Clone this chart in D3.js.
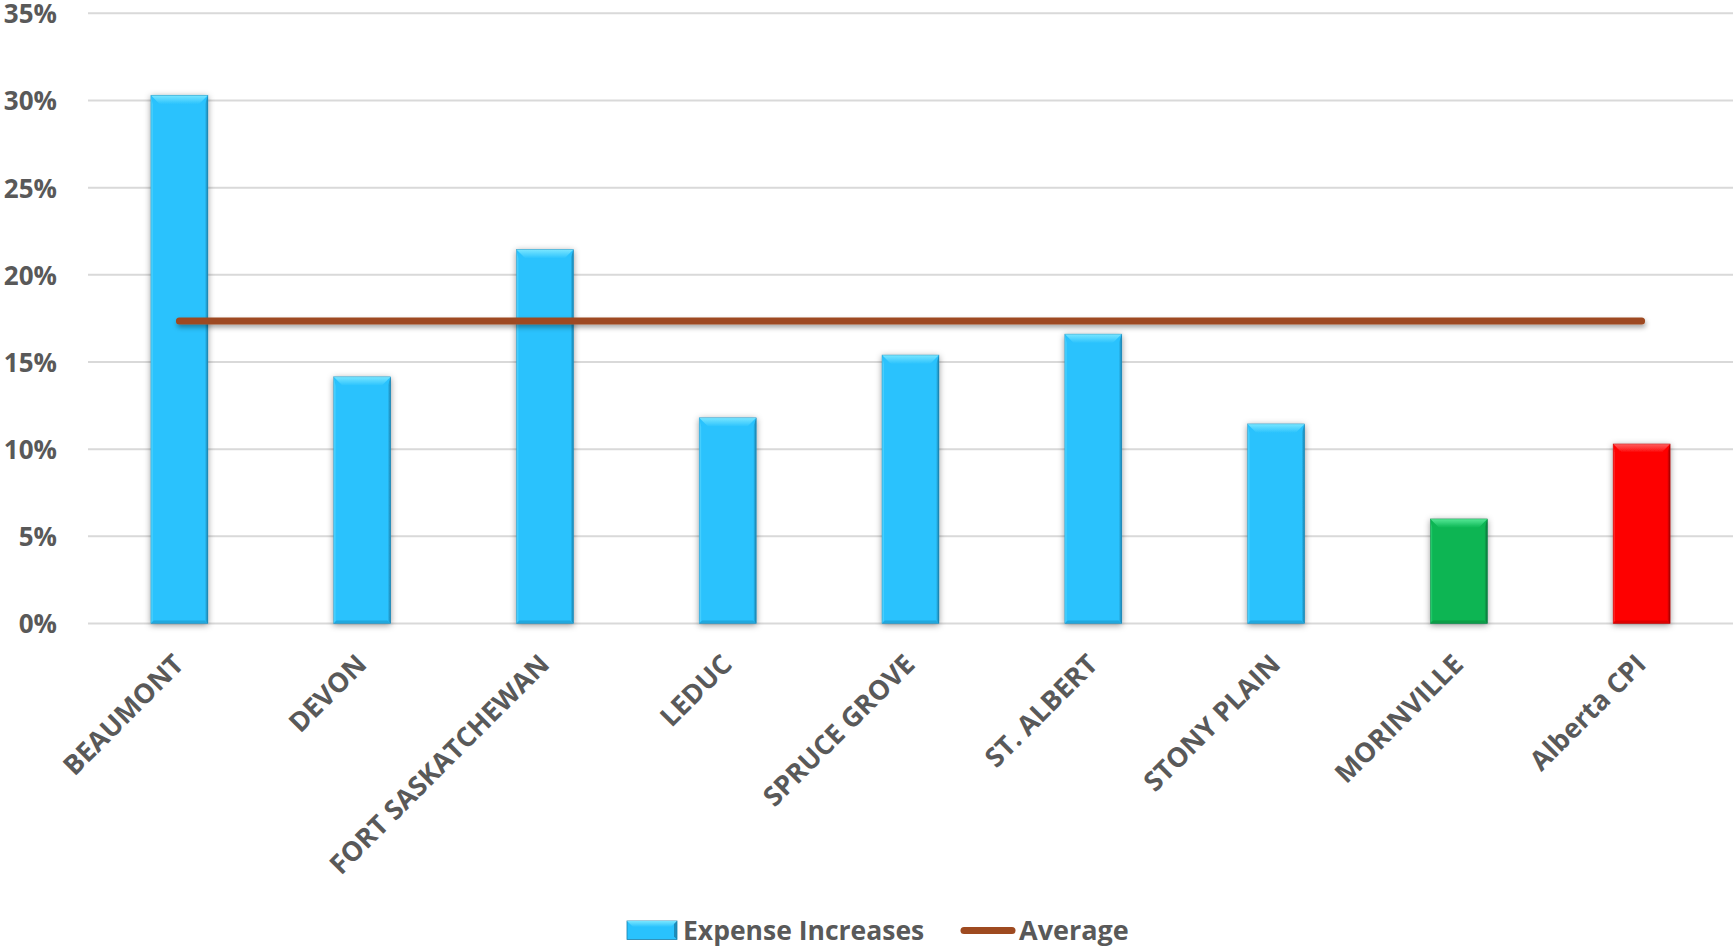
<!DOCTYPE html>
<html>
<head>
<meta charset="utf-8">
<script src="https://cdn.jsdelivr.net/npm/d3@7"></script>
<style>
  html, body { margin: 0; padding: 0; background: #ffffff; }
  svg { display: block; }
  text { font-family: "Open Sans", Lato, sans-serif; font-weight: 700; fill: #595959; }
</style>
</head>
<body>
<svg id="chart" width="1733" height="947"></svg>
<script>
// Expense increases by municipality, with the Alberta CPI for reference
const categories = ["BEAUMONT", "DEVON", "FORT SASKATCHEWAN", "LEDUC", "SPRUCE GROVE",
                    "ST. ALBERT", "STONY PLAIN", "MORINVILLE", "Alberta CPI"];
const expenseIncreases = [30.3, 14.15, 21.45, 11.8, 15.4, 16.6, 11.45, 6.0, 10.3];
const averageValue = [17.35, 17.35, 17.35, 17.35, 17.35, 17.35, 17.35, 17.35, 17.35];
const yTicks = [0, 5, 10, 15, 20, 25, 30, 35];
const legendLabels = ["Expense Increases", "Average"];

const svg = d3.select("#chart");
const plot = { left: 88, right: 1733, top: 13.3, bottom: 623.5 };

const x = d3.scaleBand().domain(categories).range([plot.left, plot.right])
  .paddingInner(0.688).paddingOuter(0.344);
const y = d3.scaleLinear().domain([0, 35]).range([plot.bottom, plot.top]);

// bar palettes: base, light (top bevel), dark (right edge), lo (bottom bevel)
const palette = {
  blue:  { base: "#29C2FD", light: "#7AE6FF", dark: "#1A7FAA", lo: "#2096C8" },
  green: { base: "#0AB552", light: "#55E896", dark: "#06703A", lo: "#078E41" },
  red:   { base: "#FE0000", light: "#FF6060", dark: "#9C0000", lo: "#C80000" }
};
const barPalette = c => c === "MORINVILLE" ? palette.green
                      : c === "Alberta CPI" ? palette.red : palette.blue;
const keyOf = p => Object.keys(palette).find(k => palette[k] === p);
const lineColor = "#9E4A20";

const defs = svg.append("defs");
const shadow = defs.append("filter").attr("id", "barShadow")
  .attr("x", "-30%").attr("y", "-10%").attr("width", "160%").attr("height", "120%");
shadow.append("feDropShadow").attr("dx", 0).attr("dy", 1.5).attr("stdDeviation", 3)
  .attr("flood-color", "#000").attr("flood-opacity", 0.4);
// the average line is flat, so its filter region is given in user space
const lineShadow = defs.append("filter").attr("id", "lineShadow")
  .attr("filterUnits", "userSpaceOnUse")
  .attr("x", 0).attr("y", 0).attr("width", 1733).attr("height", 947);
lineShadow.append("feDropShadow").attr("dx", 1).attr("dy", 3).attr("stdDeviation", 2.5)
  .attr("flood-color", "#000").attr("flood-opacity", 0.35);

Object.entries(palette).forEach(([k, p]) => {
  const g = defs.append("linearGradient").attr("id", "top-" + k)
    .attr("x1", 0).attr("y1", 0).attr("x2", 0).attr("y2", 1);
  g.append("stop").attr("offset", "0%").attr("stop-color", p.light);
  g.append("stop").attr("offset", "100%").attr("stop-color", p.base);
  const r = defs.append("linearGradient").attr("id", "right-" + k)
    .attr("x1", 0).attr("y1", 0).attr("x2", 1).attr("y2", 0);
  r.append("stop").attr("offset", "0%").attr("stop-color", p.base);
  r.append("stop").attr("offset", "100%").attr("stop-color", p.dark);
});

// gridlines
svg.append("g").selectAll("line").data(yTicks).join("line")
  .attr("x1", plot.left).attr("x2", plot.right)
  .attr("y1", d => y(d)).attr("y2", d => y(d))
  .attr("stroke", "#D9D9D9").attr("stroke-width", 2);

// y axis labels
const yAxis = d3.axisLeft(y).tickValues(yTicks).tickFormat(d => d + "%").tickSize(0).tickPadding(0);
const yg = svg.append("g").attr("transform", "translate(57,0)").call(yAxis);
yg.select(".domain").remove();
yg.selectAll("text").attr("font-size", 26).attr("fill", "#595959")
  .style("font-family", "'Open Sans', sans-serif").style("font-weight", 700).attr("dy", "0.36em");

// bevelled bars
const bars = svg.append("g").selectAll("g").data(categories).join("g")
  .attr("filter", "url(#barShadow)");
bars.each(function (c, i) {
  const g = d3.select(this);
  const p = barPalette(c), k = keyOf(p);
  const x0 = x(c), w = x.bandwidth(), y0 = y(expenseIncreases[i]), h = y(0) - y0;
  const bt = 9, bs = 3, bb = 3;
  g.append("rect").attr("x", x0).attr("y", y0).attr("width", w).attr("height", h).attr("fill", p.base);
  g.append("path").attr("fill", `url(#top-${k})`)
    .attr("d", `M${x0},${y0}L${x0 + w},${y0}L${x0 + w - bt},${y0 + bt}L${x0 + bt},${y0 + bt}Z`);
  g.append("path").attr("fill", p.lo).attr("opacity", 0.6)
    .attr("d", `M${x0},${y0 + h}L${x0 + w},${y0 + h}L${x0 + w - bb},${y0 + h - bb}L${x0 + bb},${y0 + h - bb}Z`);
  g.append("path").attr("fill", `url(#right-${k})`)
    .attr("d", `M${x0 + w},${y0}L${x0 + w},${y0 + h}L${x0 + w - bs},${y0 + h - bb}L${x0 + w - bs},${y0 + bt}Z`);
  g.append("path").attr("fill", p.light).attr("opacity", 0.35)
    .attr("d", `M${x0},${y0}L${x0},${y0 + h}L${x0 + 2},${y0 + h - bb}L${x0 + 2},${y0 + bt}Z`);
  g.append("rect").attr("x", x0).attr("y", y0).attr("width", w).attr("height", h)
    .attr("fill", "none").attr("stroke", p.dark).attr("stroke-width", 0.6).attr("opacity", 0.6);
});

// average line
const line = d3.line().x((d, i) => x(categories[i]) + x.bandwidth() / 2).y(d => y(d));
svg.append("path").datum(averageValue).attr("d", line)
  .attr("fill", "none").attr("stroke", lineColor).attr("stroke-width", 7)
  .attr("stroke-linecap", "round").attr("filter", "url(#lineShadow)");

// rotated category labels
svg.append("g").selectAll("text").data(categories).join("text")
  .attr("transform", c => `translate(${x(c) + x.bandwidth() / 2 + 6},666) rotate(-45)`)
  .attr("text-anchor", "end").attr("font-size", 27).text(c => c);

// legend
const lg = svg.append("g");
const lk = keyOf(palette.blue);
lg.append("rect").attr("x", 627).attr("y", 921).attr("width", 50).attr("height", 18.5)
  .attr("fill", palette.blue.base).attr("stroke", palette.blue.dark).attr("stroke-width", 0.8);
lg.append("path").attr("fill", `url(#top-${lk})`)
  .attr("d", "M627,921L677,921L671,927L633,927Z");
lg.append("path").attr("fill", palette.blue.dark).attr("opacity", 0.8)
  .attr("d", "M677,921L677,939.5L674,936.5L674,924Z");
lg.append("text").attr("x", 683).attr("y", 940).attr("font-size", 26.5).text(legendLabels[0]);
lg.append("line").attr("x1", 964).attr("x2", 1012).attr("y1", 930.5).attr("y2", 930.5)
  .attr("stroke", lineColor).attr("stroke-width", 7).attr("stroke-linecap", "round");
lg.append("text").attr("x", 1019).attr("y", 940).attr("font-size", 27).text(legendLabels[1]);
</script>
</body>
</html>
